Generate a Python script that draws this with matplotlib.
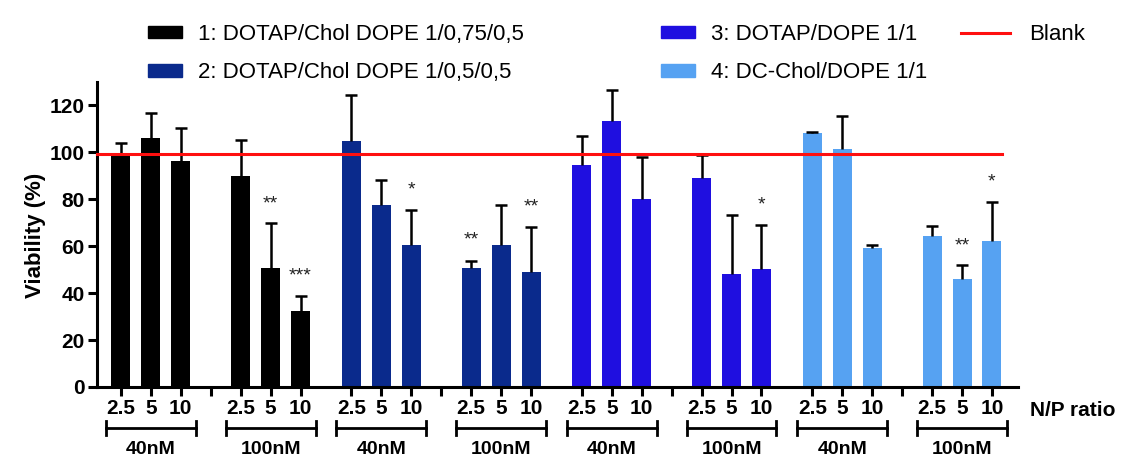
import numpy as np
import matplotlib.pyplot as plt
from matplotlib.patches import Patch
from matplotlib.lines import Line2D
from matplotlib.transforms import blended_transform_factory

plt.rcParams['font.family'] = ['Liberation Sans', 'DejaVu Sans']

# data
series_names = ['1: DOTAP/Chol DOPE 1/0,75/0,5', '2: DOTAP/Chol DOPE 1/0,5/0,5',
                '3: DOTAP/DOPE 1/1', '4: DC-Chol/DOPE 1/1']
colors = ['#000000', '#0a2a8c', '#1f0fe0', '#56a2f2']
np_ratios = ['2.5', '5', '10']
concentrations = ['40nM', '100nM']
viability = [
    [98.6, 106.3, 96.3, 90.0, 50.8, 32.6],
    [104.9, 77.7, 60.5, 50.9, 60.5, 49.2],
    [94.8, 113.4, 80.0, 89.1, 48.1, 50.2],
    [108.2, 101.3, 59.2, 64.5, 45.9, 62.4],
]
sd = [
    [5.6, 10.7, 14.3, 15.3, 19.0, 6.2],
    [19.7, 10.4, 15.0, 2.9, 16.9, 19.2],
    [12.2, 13.1, 17.9, 9.8, 25.4, 19.0],
    [0.7, 14.0, 1.3, 4.3, 6.2, 16.4],
]
stars = [
    ['', '', '', '', '**', '***'],
    ['', '', '*', '**', '', '**'],
    ['', '', '', '', '', '*'],
    ['', '', '', '', '**', '*'],
]
star_y = [
    [0, 0, 0, 0, 81, 50],
    [0, 0, 86.7, 65.7, 0, 79.5],
    [0, 0, 0, 0, 0, 80.3],
    [0, 0, 0, 0, 63.1, 90.3],
]
blank = 99.5

W, H = 1124, 459
fig = plt.figure(figsize=(W / 100, H / 100), dpi=100)
ax = fig.add_axes([97 / W, 1 - 387 / H, (1018 - 97) / W, (387 - 82) / H])

step = 7.7
slots = [0, 1, 2, 4, 5, 6]
tick_pos, tick_lab = [], []
for s in range(4):
    x = np.array(slots) + s * step
    v = np.array(viability[s])
    top = v + np.array(sd[s])
    ax.bar(x, v, width=0.635, color=colors[s], zorder=2)
    # upper error bars only, no cap at the bar top
    ax.vlines(x, v, top, color='black', lw=1.8, zorder=3)
    ax.hlines(top, x - 0.2, x + 0.2, color='black', lw=1.8, zorder=3)
    for i in range(6):
        if stars[s][i]:
            ax.annotate(stars[s][i], xy=(x[i], star_y[s][i]), xytext=(0, -8),
                        textcoords='offset points', ha='center', va='baseline',
                        fontsize=14, color='#222222')
    for i in range(7):
        tick_pos.append(s * step + i)
        tick_lab.append('' if i == 3 else np_ratios[i if i < 3 else i - 4])

ax.plot([-0.8, 29.43], [blank, blank], color='#ff1010', lw=2.2, zorder=4, clip_on=False)

ax.set_xlim(-0.8, 29.97)
ax.set_ylim(0, 130)
ax.set_yticks(range(0, 121, 20))
ax.set_xticks(tick_pos)
ax.set_xticklabels(tick_lab)
for lab in ax.get_xticklabels() + ax.get_yticklabels():
    lab.set_fontweight('bold')
    lab.set_fontsize(15)
ax.tick_params(axis='both', width=2.2, length=6.5, direction='out', pad=2.5)
for side in ['top', 'right']:
    ax.spines[side].set_visible(False)
for side in ['left', 'bottom']:
    ax.spines[side].set_linewidth(2.2)

# concentration brackets under the ratios
tr = blended_transform_factory(ax.transData, fig.transFigure)
yb = 1 - 428 / H
cap = 7 / H
for s in range(4):
    for g in range(2):
        x0 = s * step + g * 4 - 0.5
        x1 = s * step + g * 4 + 2.5
        ax.plot([x0, x1], [yb, yb], color='black', lw=2, transform=tr, clip_on=False)
        for xe in (x0, x1):
            ax.plot([xe, xe], [yb - cap, yb + cap], color='black', lw=2,
                    transform=tr, clip_on=False)
        ax.text((x0 + x1) / 2, 1 - 458 / H, concentrations[g], transform=tr,
                ha='center', va='bottom', fontsize=14, fontweight='bold')

fig.text(1030 / W, 1 - 410 / H, 'N/P ratio', ha='left', va='center',
         fontsize=15, fontweight='bold')
fig.text(35 / W, 1 - 235 / H, 'Viability (%)', rotation=90, ha='center',
         va='center', fontsize=16, fontweight='bold')

# legend in three blocks
handles = [Patch(color=c) for c in colors]
leg_kw = dict(frameon=False, fontsize=16, borderpad=0, borderaxespad=0,
              handleheight=0.5, labelspacing=0.78, loc='upper left')
fig.legend(handles[:2], series_names[:2], bbox_to_anchor=(148 / W, 1 - 24 / H),
           handlelength=1.55, handletextpad=0.7, **leg_kw)
fig.legend(handles[2:], series_names[2:], bbox_to_anchor=(661 / W, 1 - 24 / H),
           handlelength=1.55, handletextpad=0.7, **leg_kw)
fig.legend([Line2D([], [], color='#ff1010', lw=2.2)], ['Blank'],
           bbox_to_anchor=(961 / W, 1 - 24 / H), handlelength=2.2,
           handletextpad=0.85, **leg_kw)

fig.savefig('out.png', dpi=100)
